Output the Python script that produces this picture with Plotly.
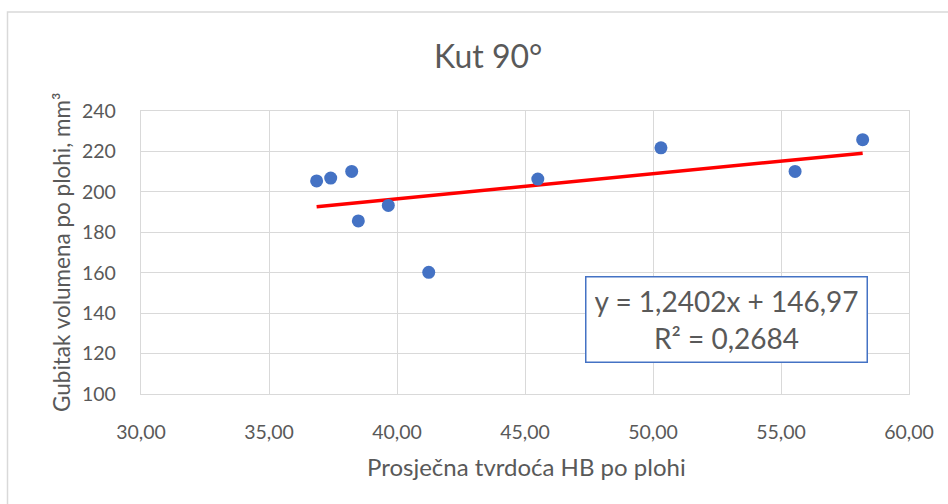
import plotly.graph_objects as go

# Average surface hardness (HB) vs. volume loss per surface (mm^3), angle 90°
hardness = [36.86, 37.41, 38.23, 38.49, 39.66, 41.24, 45.50, 50.31, 55.55, 58.19]
volume_loss = [205.4, 206.8, 210.1, 185.6, 193.3, 160.2, 206.3, 221.8, 210.1, 225.8]

# Linear trendline coefficients and fit quality
slope = 1.2402
intercept = 146.97
r_squared = 0.2684

x_ticks = [30, 35, 40, 45, 50, 55, 60]
y_ticks = [100, 120, 140, 160, 180, 200, 220, 240]

TEXT = "#595959"
GRID = "#D9D9D9"
FONT = "Lato"

trend_x = [min(hardness), max(hardness)]
trend_y = [slope * v + intercept for v in trend_x]

fig = go.Figure()
fig.add_trace(go.Scatter(
    x=trend_x, y=trend_y, mode="lines",
    line=dict(color="#FF0000", width=3.5),
    hoverinfo="skip", showlegend=False,
))
fig.add_trace(go.Scatter(
    x=hardness, y=volume_loss, mode="markers",
    marker=dict(color="#4472C4", size=13, line=dict(width=0)),
    showlegend=False,
))

def fmt(v, d):
    return f"{v:.{d}f}".replace(".", ",")

eq_text = (f"y = {fmt(slope, 4)}x + {fmt(intercept, 2)}<br>"
           f"R² = {fmt(r_squared, 4)}")

fig.update_layout(
    width=948, height=504,
    margin=dict(l=141, r=39, t=111, b=110),
    paper_bgcolor="white", plot_bgcolor="white",
    separators=",.",
    font=dict(family=FONT, color=TEXT, size=18),
    xaxis=dict(
        range=[30, 60], tickvals=x_ticks,
        ticktext=[fmt(v, 2) for v in x_ticks],
        showgrid=True, gridcolor=GRID, gridwidth=1.3,
        showline=True, linecolor=GRID, linewidth=1.3, mirror=True,
        zeroline=False, ticks="", ticklabelstandoff=20,
        tickfont=dict(size=19.5, color=TEXT, family=FONT),
    ),
    yaxis=dict(
        range=[100, 240], tickvals=y_ticks,
        showgrid=True, gridcolor=GRID, gridwidth=1.3,
        showline=True, linecolor=GRID, linewidth=1.3, mirror=True,
        zeroline=False, ticks="", ticklabelstandoff=20,
        tickfont=dict(size=19.5, color=TEXT, family=FONT),
    ),
    shapes=[dict(
        type="rect", xref="paper", yref="paper",
        x0=(7.5 - 141) / 768, x1=(952 - 141) / 768,
        y0=(394 - 508) / 283, y1=(394 - 12) / 283,
        line=dict(color=GRID, width=1.5), fillcolor="rgba(0,0,0,0)",
        layer="below",
    )],
    annotations=[
        dict(text="Kut 90°", xref="paper", yref="paper",
             x=(488 - 141) / 768, y=(394 - 56) / 283,
             xanchor="center", yanchor="middle", showarrow=False,
             font=dict(size=32, color=TEXT, family=FONT)),
        dict(text="Prosječna tvrdoća HB po plohi", xref="paper", yref="paper",
             x=(526 - 141) / 768, y=(394 - 466) / 283,
             xanchor="center", yanchor="middle", showarrow=False,
             font=dict(size=24, color=TEXT, family=FONT)),
        dict(text="Gubitak volumena po plohi, mm³", xref="paper", yref="paper",
             x=(61 - 141) / 768, y=(394 - 252) / 283, textangle=-90,
             xanchor="center", yanchor="middle", showarrow=False,
             font=dict(size=22.5, color=TEXT, family=FONT)),
        dict(text=eq_text, xref="paper", yref="paper",
             x=(726 - 141) / 768, y=(394 - 319) / 283,
             xanchor="center", yanchor="middle", showarrow=False,
             align="center", valign="middle", bgcolor="white",
             width=264, height=68,
             bordercolor="#4472C4", borderwidth=1.5, borderpad=8,
             font=dict(size=28, color=TEXT, family=FONT)),
    ],
)

fig.write_html("out.html")
